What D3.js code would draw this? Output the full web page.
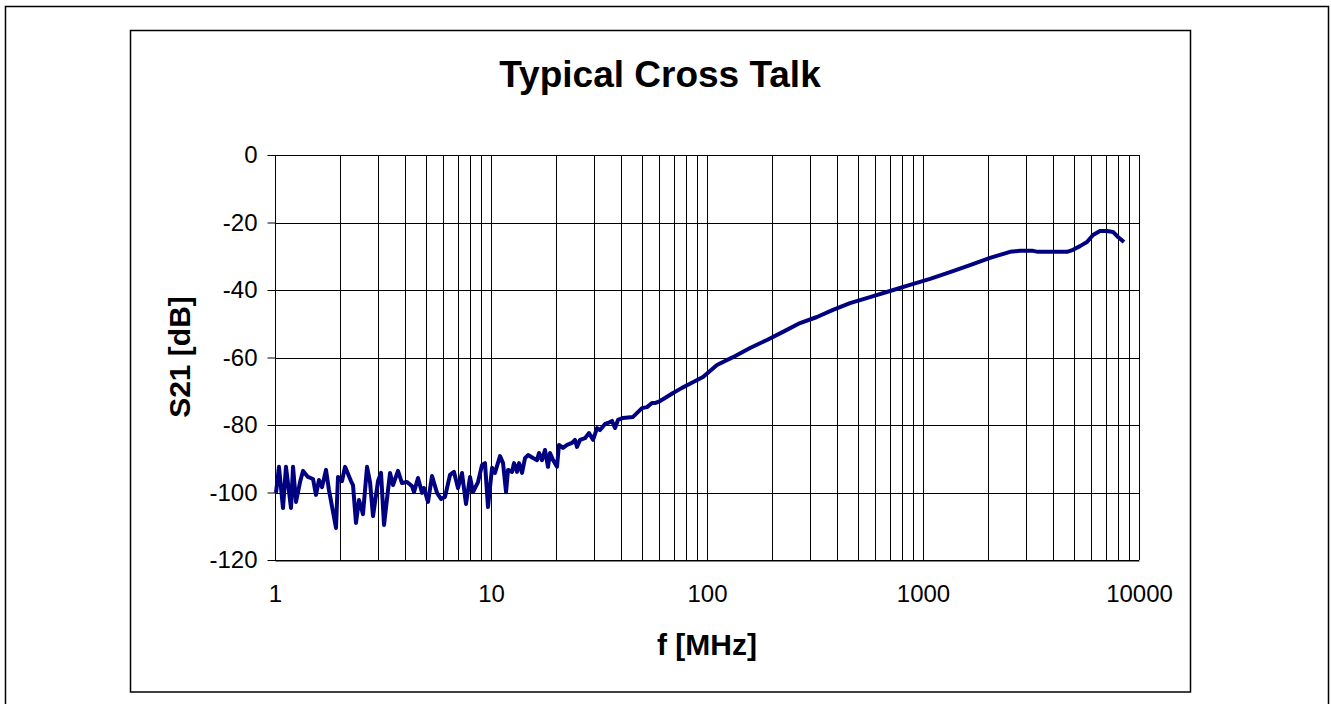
<!DOCTYPE html>
<html><head><meta charset="utf-8">
<script src="https://cdn.jsdelivr.net/npm/d3@7/dist/d3.min.js"></script>
<style>body{margin:0;background:#fff;}svg{display:block;font-family:"Liberation Sans",Arial,sans-serif;}</style>
</head><body>
<svg id="c" width="1331" height="704"></svg>
<script>
const freq = [1.011,1.043,1.089,1.124,1.186,1.212,1.251,1.306,1.348,1.421,1.500,1.548,1.598,1.651,1.722,1.778,1.916,1.957,2.043,2.110,2.248,2.297,2.371,2.448,2.555,2.667,2.754,2.843,2.999,3.096,3.197,3.336,3.408,3.519,3.710,3.872,4.084,4.308,4.401,4.593,4.793,4.896,5.109,5.332,5.623,5.868,6.124,6.459,6.740,7.034,7.340,7.661,7.994,8.254,8.706,9.085,9.380,9.685,10.11,10.43,11.01,11.37,11.74,11.99,12.51,12.78,13.19,13.48,13.92,14.37,14.84,15.65,16.33,16.68,17.22,17.78,18.36,18.76,19.37,20.21,20.64,21.54,22.49,23.71,24.48,25.01,25.83,27.24,28.43,29.67,30.97,31.97,33.72,34.81,36.33,37.51,38.72,40.84,45.43,50.02,52.75,55.64,57.45,60.59,63.91,69.61,76.61,81.67,95.83,111.2,131.9,158.2,189.6,224.8,269.5,323.0,383.1,459.2,568.4,703.6,870.7,1078,1334,1651,2043,2273,2528,2812,3230,3408,4642,4948,5332,5745,6124,6598,7110,7579,7994,8521];
const s21 = [-100.1,-92.4,-104.6,-92.4,-104.6,-92.4,-102.8,-96.9,-93.6,-95.4,-96.0,-100.7,-96.3,-98.4,-93.3,-99.3,-110.5,-95.4,-96.6,-92.4,-96.6,-97.8,-109.0,-102.2,-106.4,-92.4,-96.9,-107.0,-96.6,-94.2,-109.6,-99.3,-94.2,-97.8,-93.6,-97.2,-96.9,-98.1,-99.9,-95.7,-100.1,-98.7,-102.8,-95.1,-100.1,-101.9,-101.3,-94.8,-93.9,-98.7,-94.2,-103.4,-95.4,-99.9,-96.9,-91.9,-91.3,-104.3,-92.7,-94.2,-89.2,-91.3,-99.9,-93.3,-93.9,-91.3,-93.9,-91.3,-94.2,-89.8,-88.9,-89.8,-90.4,-88.3,-90.4,-87.4,-92.4,-88.3,-90.4,-92.4,-85.9,-86.8,-85.9,-85.3,-84.4,-86.5,-84.4,-83.9,-82.4,-84.4,-80.9,-81.5,-79.7,-79.4,-78.8,-80.9,-78.5,-77.9,-77.6,-75.0,-74.7,-73.5,-73.5,-72.9,-72.0,-70.5,-69.0,-68.1,-65.8,-62.2,-59.9,-57.2,-54.8,-52.4,-49.8,-48.0,-45.9,-43.9,-42.1,-40.3,-38.5,-36.7,-34.7,-32.6,-30.5,-29.6,-28.7,-28.4,-28.4,-28.7,-28.7,-28.1,-27.0,-25.8,-23.7,-22.5,-22.5,-22.8,-24.3,-25.8];
const xTicks = [1,10,100,1000,10000];
const yTicks = [0,-20,-40,-60,-80,-100,-120];
const title = "Typical Cross Talk";
const xTitle = "f [MHz]";
const yTitle = "S21 [dB]";

const svg = d3.select("#c");
const x = d3.scaleLog().domain([1,10000]).range([275,1139]);
const y = d3.scaleLinear().domain([-120,0]).range([560,155]);

// frames
svg.append("path").attr("d","M5.5,704 V6.5 H1328.5 V704").attr("fill","none").attr("stroke","#000").attr("stroke-width",1.5);
svg.append("rect").attr("x",130.5).attr("y",30.5).attr("width",1060).attr("height",661.5)
  .attr("fill","none").attr("stroke","#000").attr("stroke-width",1.5);

// grid
const minor = [];
for (let d=1; d<10000; d*=10) for (let k=1;k<10;k++) minor.push(d*k);
minor.push(10000);
const g = svg.append("g");
g.selectAll("line.v").data(minor).join("line")
  .attr("x1",d=>Math.round(x(d))+0.5).attr("x2",d=>Math.round(x(d))+0.5)
  .attr("y1",y(0)).attr("y2",y(-120)).attr("stroke","#000").attr("stroke-width",1);
g.selectAll("line.h").data(yTicks).join("line")
  .attr("y1",d=>Math.round(y(d))+0.5).attr("y2",d=>Math.round(y(d))+0.5)
  .attr("x1",x(1)).attr("x2",x(10000)).attr("stroke","#000").attr("stroke-width",1);

// y axis
const ya = svg.append("g").attr("transform","translate("+(Math.round(x(1))+0.5)+",0)")
  .call(d3.axisLeft(y).tickValues(yTicks).tickSize(8).tickPadding(10).tickFormat(d=>String(d)));
ya.select(".domain").attr("stroke","#000").attr("d","M0,"+y(0)+"V"+y(-120));
ya.selectAll("text").attr("font-size",24).attr("fill","#000").attr("font-family",'"Liberation Sans",Arial,sans-serif');

// x axis
const xa = svg.append("g").attr("transform","translate(0,"+(Math.round(y(-120))+0.5)+")")
  .call(d3.axisBottom(x).tickValues(xTicks).tickSize(0).tickPadding(24).tickFormat(d=>String(d)));
xa.select(".domain").attr("stroke","#000");
xa.selectAll("text").attr("font-size",24).attr("fill","#000").attr("font-family",'"Liberation Sans",Arial,sans-serif');

// line
const pts = freq.map((f,i)=>[f,s21[i]]);
svg.append("path").datum(pts)
  .attr("d", d3.line().x(d=>x(d[0])).y(d=>y(d[1])))
  .attr("fill","none").attr("stroke","#000080").attr("stroke-width",4).attr("stroke-linejoin","round");

// titles
svg.append("text").attr("x",660).attr("y",87).attr("text-anchor","middle")
  .attr("font-size",37).attr("font-weight","bold").text(title);
svg.append("text").attr("x",707).attr("y",655).attr("text-anchor","middle")
  .attr("font-size",30).attr("font-weight","bold").text(xTitle);
svg.append("text").attr("transform","translate(190,357) rotate(-90)").attr("text-anchor","middle")
  .attr("font-size",30).attr("font-weight","bold").text(yTitle);
</script>
</body></html>
